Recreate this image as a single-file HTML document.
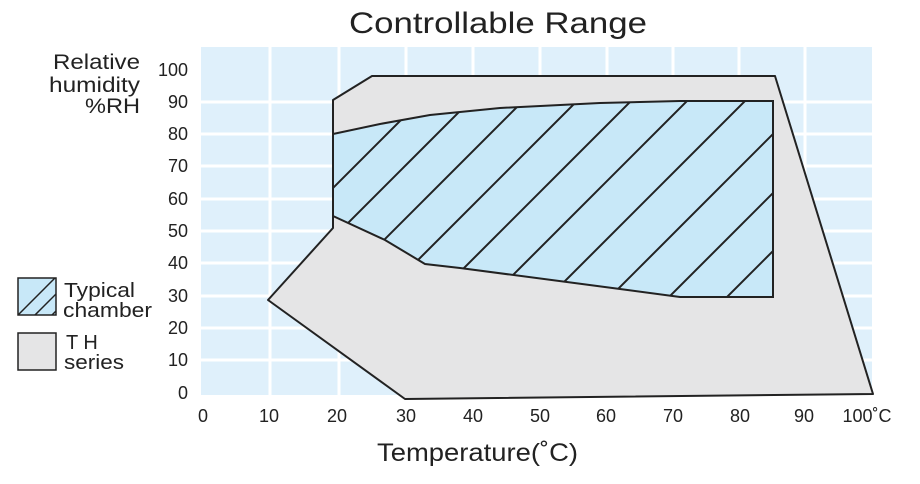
<!DOCTYPE html>
<html><head><meta charset="utf-8"><style>
body{margin:0;background:#fff;}
svg text{font-family:"Liberation Sans",sans-serif;fill:#222;}
</style></head><body>
<svg width="920" height="479" viewBox="0 0 920 479" xmlns="http://www.w3.org/2000/svg">
<defs>
<clipPath id="bc"><path d="M333,134 L380,124 L430,115 L500,108 L600,103 L680,101 L773,101 L773,297 L680,297 L620,289 L460,268 L425,264 L385,240 L333,216 Z"/></clipPath>
<clipPath id="lc"><rect x="18" y="278" width="38" height="37"/></clipPath>
</defs>
<text x="349" y="33" font-size="30" textLength="298" lengthAdjust="spacingAndGlyphs">Controllable Range</text>
<rect x="201" y="47" width="671" height="348" fill="#dff0fb"/>
<g stroke="#fff" stroke-width="3">
<line x1="270" y1="47" x2="270" y2="395"/><line x1="339" y1="47" x2="339" y2="395"/><line x1="406" y1="47" x2="406" y2="395"/><line x1="473" y1="47" x2="473" y2="395"/><line x1="540" y1="47" x2="540" y2="395"/><line x1="607" y1="47" x2="607" y2="395"/><line x1="673" y1="47" x2="673" y2="395"/><line x1="739" y1="47" x2="739" y2="395"/><line x1="805" y1="47" x2="805" y2="395"/>
<line x1="201" y1="102" x2="872" y2="102"/><line x1="201" y1="134" x2="872" y2="134"/><line x1="201" y1="166" x2="872" y2="166"/><line x1="201" y1="199" x2="872" y2="199"/><line x1="201" y1="231" x2="872" y2="231"/><line x1="201" y1="263" x2="872" y2="263"/><line x1="201" y1="296" x2="872" y2="296"/><line x1="201" y1="328" x2="872" y2="328"/><line x1="201" y1="360" x2="872" y2="360"/>
</g>
<path d="M333,100 L372,76 L775,76 L873,394 L405,399 L268,300 L333,228 Z" fill="#e5e5e6" stroke="#222" stroke-width="2" stroke-linejoin="round"/>
<path d="M333,134 L380,124 L430,115 L500,108 L600,103 L680,101 L773,101 L773,297 L680,297 L620,289 L460,268 L425,264 L385,240 L333,216 Z" fill="#c8e8f8" stroke="#222" stroke-width="2"/>
<g clip-path="url(#bc)" stroke="#222" stroke-width="2">
<line x1="221" y1="300" x2="521" y2="0"/><line x1="271" y1="300" x2="571" y2="0"/><line x1="324" y1="300" x2="624" y2="0"/><line x1="378" y1="300" x2="678" y2="0"/><line x1="432" y1="300" x2="732" y2="0"/><line x1="488" y1="300" x2="788" y2="0"/><line x1="546" y1="300" x2="846" y2="0"/><line x1="607" y1="300" x2="907" y2="0"/><line x1="666" y1="300" x2="966" y2="0"/><line x1="724" y1="300" x2="1024" y2="0"/>
</g>
<g font-size="18" text-anchor="end">
<text x="188" y="76">100</text><text x="188" y="108">90</text><text x="188" y="140">80</text><text x="188" y="172">70</text><text x="188" y="205">60</text><text x="188" y="237">50</text><text x="188" y="269">40</text><text x="188" y="302">30</text><text x="188" y="334">20</text><text x="188" y="366">10</text><text x="188" y="399">0</text>
</g>
<g font-size="18" text-anchor="middle">
<text x="203" y="422">0</text><text x="269" y="422">10</text><text x="337" y="422">20</text><text x="406" y="422">30</text><text x="473" y="422">40</text><text x="540" y="422">50</text><text x="606" y="422">60</text><text x="673" y="422">70</text><text x="740" y="422">80</text><text x="804" y="422">90</text><text x="867" y="422">100˚C</text>
</g>
<g font-size="21">
<text x="53" y="69" textLength="87" lengthAdjust="spacingAndGlyphs">Relative</text><text x="49" y="92" textLength="91" lengthAdjust="spacingAndGlyphs">humidity</text><text x="85" y="113" textLength="55" lengthAdjust="spacingAndGlyphs">%RH</text>
</g>
<text x="377" y="461" font-size="25" textLength="201" lengthAdjust="spacingAndGlyphs">Temperature(˚C)</text>
<rect x="18" y="278" width="38" height="37" fill="#c8e8f8"/>
<g clip-path="url(#lc)" stroke="#222" stroke-width="1.5"><line x1="6" y1="327" x2="56" y2="277"/><line x1="23" y1="327" x2="73" y2="277"/><line x1="40" y1="327" x2="90" y2="277"/></g>
<rect x="18" y="278" width="38" height="37" fill="none" stroke="#222" stroke-width="1.5"/>
<rect x="18" y="333" width="38" height="37" fill="#e5e5e6" stroke="#222" stroke-width="1.5"/>
<g font-size="20"><text x="64" y="297" textLength="71" lengthAdjust="spacingAndGlyphs">Typical</text><text x="63" y="317" textLength="89" lengthAdjust="spacingAndGlyphs">chamber</text><text x="66" y="349">T H</text><text x="64" y="369" textLength="60" lengthAdjust="spacingAndGlyphs">series</text></g>
</svg>
</body></html>
